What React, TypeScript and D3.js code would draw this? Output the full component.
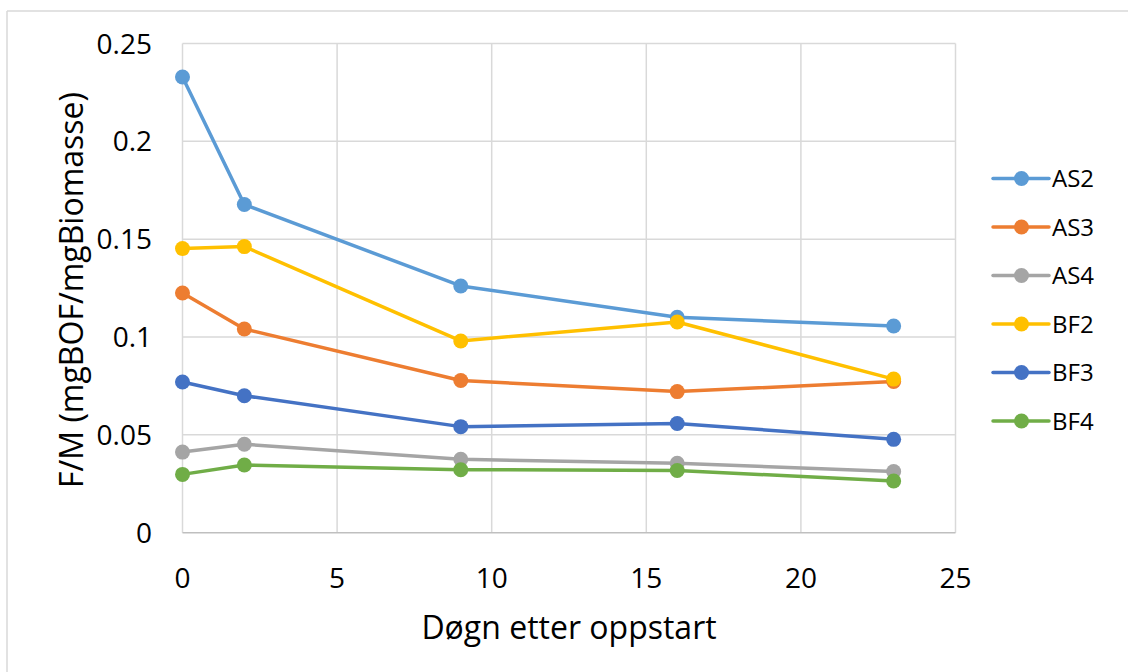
import React from "react";
import * as d3 from "d3";

const days = [0, 2, 9, 16, 23];
const seriesNames = ["AS2", "AS3", "AS4", "BF2", "BF3", "BF4"];
const seriesColors = ["#5B9BD5", "#ED7D31", "#A5A5A5", "#FFC000", "#4472C4", "#70AD47"];
const AS2 = [0.2329, 0.1677, 0.1261, 0.1101, 0.1056];
const AS3 = [0.1225, 0.1041, 0.0778, 0.0721, 0.0773];
const AS4 = [0.0412, 0.0452, 0.0375, 0.0355, 0.0313];
const BF2 = [0.1452, 0.1462, 0.0980, 0.1077, 0.0785];
const BF3 = [0.0770, 0.0700, 0.0542, 0.0558, 0.0477];
const BF4 = [0.0298, 0.0346, 0.0322, 0.0318, 0.0264];
const seriesValues = [AS2, AS3, AS4, BF2, BF3, BF4];
const xTicks = [0, 5, 10, 15, 20, 25];
const yTicks = [0, 0.05, 0.1, 0.15, 0.2, 0.25];

const FONT = "'Open Sans', Lato, sans-serif";

export default function App() {
  const W = 1128, H = 672;
  const left = 182.5, right = 955.5, top = 43.5, bottom = 532.7;
  const x = d3.scaleLinear().domain([0, 25]).range([left, right]);
  const y = d3.scaleLinear().domain([0, 0.25]).range([bottom, top]);
  const line = d3.line<number>().x((_, i) => x(days[i])).y((v) => y(v));

  const legendX0 = 993, legendX1 = 1049, legendTop = 178.5, legendStep = 48.5;

  return (
    <svg width={W} height={H} style={{ position: "absolute", left: 0, top: 0, background: "#fff" }} fontFamily={FONT}>
      <rect x={0} y={0} width={W} height={H} fill="#fff" />
      <line x1={7} y1={11} x2={W} y2={11} stroke="#D9D9D9" strokeWidth={1.5} />
      <line x1={7} y1={11} x2={7} y2={H} stroke="#D9D9D9" strokeWidth={1.5} />
      {/* gridlines */}
      {yTicks.filter((t) => t > 0).map((t) => (
        <line key={"gy" + t} x1={left} x2={right} y1={y(t)} y2={y(t)} stroke="#D9D9D9" strokeWidth={1.5} />
      ))}
      {xTicks.map((t) => (
        <line key={"gx" + t} x1={x(t)} x2={x(t)} y1={top} y2={bottom} stroke="#D9D9D9" strokeWidth={1.5} />
      ))}
      <line x1={left} x2={right} y1={bottom} y2={bottom} stroke="#BFBFBF" strokeWidth={1.5} />
      {/* tick labels */}
      {yTicks.map((t) => (
        <text key={"ty" + t} x={152} y={y(t) + 10} textAnchor="end" fontSize={28} fill="#000">
          {t === 0 ? "0" : String(+t.toFixed(2))}
        </text>
      ))}
      {xTicks.map((t) => (
        <text key={"tx" + t} x={x(t)} y={588} textAnchor="middle" fontSize={28} fill="#000">
          {t}
        </text>
      ))}
      {/* axis titles */}
      <text x={569} y={639} textAnchor="middle" fontSize={32} fill="#000">
        Døgn etter oppstart
      </text>
      <text transform={`translate(83, 290) rotate(-90)`} textAnchor="middle" fontSize={32} fill="#000">
        F/M (mgBOF/mgBiomasse)
      </text>
      {/* series */}
      {seriesValues.map((vals, si) => (
        <g key={seriesNames[si]}>
          <path d={line(vals) || ""} fill="none" stroke={seriesColors[si]} strokeWidth={3.5} strokeLinejoin="round" />
          {vals.map((v, i) => (
            <circle key={i} cx={x(days[i])} cy={y(v)} r={7.5} fill={seriesColors[si]} />
          ))}
        </g>
      ))}
      {/* legend */}
      {seriesNames.map((name, i) => {
        const ly = legendTop + i * legendStep;
        return (
          <g key={"lg" + name}>
            <line x1={legendX0} x2={legendX1} y1={ly} y2={ly} stroke={seriesColors[i]} strokeWidth={3.5} strokeLinecap="round" />
            <circle cx={(legendX0 + legendX1) / 2 + 0.5} cy={ly} r={7.5} fill={seriesColors[i]} />
            <text x={1052} y={ly + 8.5} fontSize={24} fill="#000">
              {name}
            </text>
          </g>
        );
      })}
    </svg>
  );
}
